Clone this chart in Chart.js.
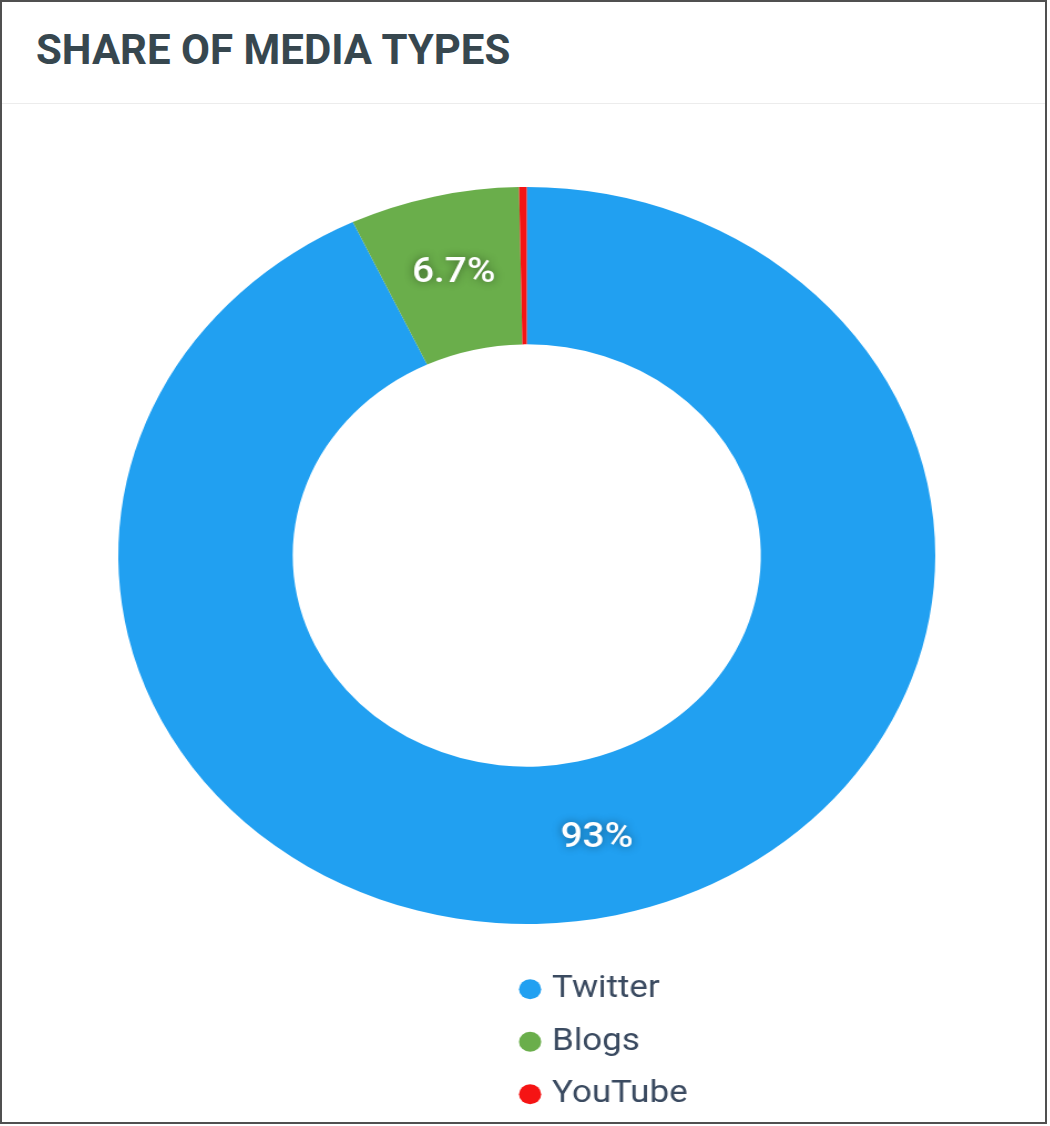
<!DOCTYPE html>
<html>
<head>
<meta charset="utf-8">
<script src="https://cdn.jsdelivr.net/npm/chart.js@4.4.1/dist/chart.umd.min.js"></script>
<style>
  html, body { margin: 0; padding: 0; background: #fff; }
  body { width: 1050px; height: 1126px; position: relative; overflow: hidden; }
  #card { position: absolute; left: 0; top: 0; width: 1043px; height: 1120px; border: 2px solid #505050; }
  #title { position: absolute; left: 36px; top: 25px; font-family: Roboto, sans-serif; font-weight: 700; font-size: 42px; color: #37474f; white-space: nowrap; }
  #sep { position: absolute; left: 2px; top: 103px; width: 1043px; height: 1px; background: #ececec; }
  #wrap { position: absolute; left: 3px; top: 104px; width: 940px; height: 1018px; transform: scaleX(1.1085); transform-origin: 0 0; }
</style>
</head>
<body>
<div id="card"></div>
<div id="title">SHARE OF MEDIA TYPES</div>
<div id="sep"></div>
<div id="wrap"><canvas id="c" width="940" height="1018"></canvas></div>
<script>
const categories = ['Twitter', 'Blogs', 'YouTube'];
const shares = [93, 6.7, 0.3];
const sliceColors = ['#21a0f1', '#6aae4b', '#f51414'];

const total = shares.reduce((a, b) => a + b, 0);

const sliceLabels = {
  id: 'sliceLabels',
  afterDatasetsDraw(chart) {
    const ctx = chart.ctx;
    const meta = chart.getDatasetMeta(0);
    ctx.save();
    ctx.font = '500 35px Roboto, sans-serif';
    ctx.textAlign = 'center';
    ctx.textBaseline = 'middle';
    ctx.fillStyle = '#ffffff';
    ctx.shadowColor = 'rgba(0,0,0,0.45)';
    ctx.shadowBlur = 8;
    meta.data.forEach((arc, i) => {
      const pct = shares[i] / total * 100;
      if (pct < 2) return;
      const p = arc.tooltipPosition();
      ctx.fillText(Number(pct.toPrecision(2)) + '%', p.x, p.y);
    });
    ctx.restore();
  }
};

const LEGEND_W = 200;
const legendPlace = {
  id: 'legendPlace',
  afterInit(chart) {
    const lg = chart.legend;
    const origFit = lg.fit.bind(lg);
    lg.fit = function () {
      const mw = this.maxWidth;
      this.maxWidth = LEGEND_W;
      origFit();
      this.maxWidth = mw;
    };
  },
  afterLayout(chart) {
    const lg = chart.legend;
    const h = lg.height;
    lg.left = 450.5;
    lg.right = lg.left + LEGEND_W;
    lg.width = LEGEND_W;
    lg.top = 848.5;
    lg.bottom = lg.top + h;
  }
};

new Chart(document.getElementById('c'), {
  type: 'doughnut',
  data: {
    labels: categories,
    datasets: [{
      data: shares,
      backgroundColor: sliceColors,
      borderWidth: 0
    }]
  },
  options: {
    responsive: false,
    animation: false,
    cutout: '57.3%',
    layout: { padding: { left: 5, right: 0, top: 83, bottom: 30.5 } },
    plugins: {
      tooltip: { enabled: false },
      legend: {
        position: 'bottom',
        align: 'start',
        labels: {
          usePointStyle: true,
          pointStyle: 'circle',
          boxWidth: 8,
          boxHeight: 14.2,
          padding: 21,
          color: '#3a4a60',
          font: { family: 'Roboto, sans-serif', size: 31.5 }
        }
      }
    }
  },
  plugins: [sliceLabels, legendPlace]
});
</script>
</body>
</html>
